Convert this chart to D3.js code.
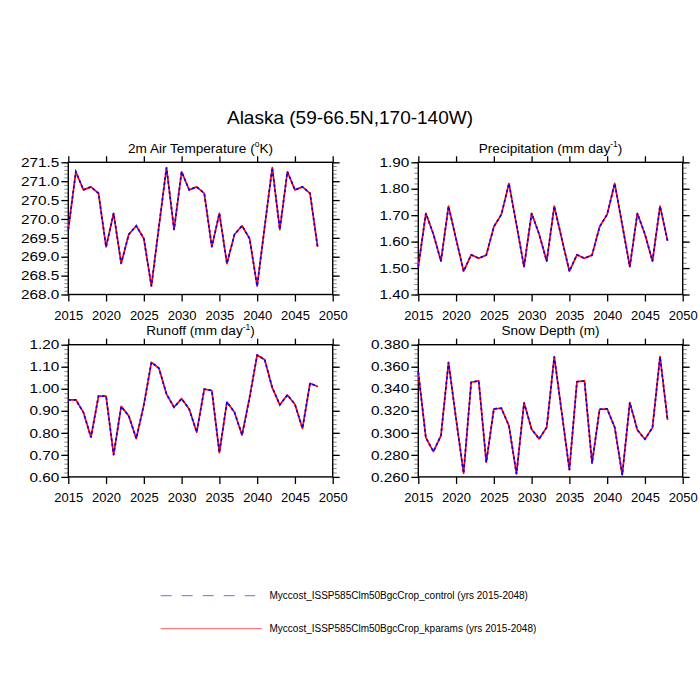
<!DOCTYPE html>
<html>
<head>
<meta charset="utf-8">
<script src="https://cdn.jsdelivr.net/npm/d3@7"></script>
<style>
  html, body { margin: 0; padding: 0; background: #fff; }
  svg { display: block; font-family: "Liberation Sans", Arial, Helvetica, sans-serif; }
</style>
</head>
<body>
<svg id="chart" width="700" height="700"></svg>
<script>
// ---------- data ----------
const years = [2015,2016,2017,2018,2019,2020,2021,2022,2023,2024,2025,2026,2027,2028,2029,2030,2031,
               2032,2033,2034,2035,2036,2037,2038,2039,2040,2041,2042,2043,2044,2045,2046,2047,2048];

const tempControl = [269.72,271.25,270.77,270.85,270.68,269.26,270.15,268.82,269.59,269.82,269.48,268.22,269.80,271.36,
                     269.72,271.25,270.77,270.85,270.68,269.26,270.15,268.82,269.59,269.82,269.48,268.22,269.80,271.36,
                     269.72,271.25,270.77,270.85,270.68,269.26];
const tempKparams = tempControl.slice();

const precipControl = [1.505,1.707,1.628,1.526,1.734,1.610,1.488,1.550,1.537,1.549,1.656,1.703,1.820,1.663,
                       1.505,1.707,1.628,1.526,1.734,1.610,1.488,1.550,1.537,1.549,1.656,1.703,1.820,1.663,
                       1.505,1.707,1.628,1.526,1.734,1.603];
const precipKparams = precipControl.slice();

const runoffControl = [0.950,0.950,0.893,0.780,0.967,0.967,0.700,0.920,0.877,0.774,0.927,1.120,1.093,0.976,
                       0.916,0.955,0.908,0.803,0.998,0.992,0.710,0.940,0.893,0.790,0.961,1.153,1.132,1.005,
                       0.927,0.972,0.930,0.820,1.025,1.010];
const runoffKparams = runoffControl.slice();

const snowControl = [0.355,0.2956,0.283,0.2975,0.364,0.3126,0.2633,0.3459,0.3471,0.2733,0.3217,0.3223,0.3063,0.2627,
                     0.3274,0.3032,0.2945,0.305,0.3691,0.3178,0.2664,0.3464,0.3471,0.2724,0.3214,0.3217,0.305,0.2618,
                     0.3274,0.3026,0.2942,0.3047,0.3691,0.3117];
const snowKparams = snowControl.slice();

const xTicks = [2015,2020,2025,2030,2035,2040,2045,2050];
const tempTicks = [268.0,268.5,269.0,269.5,270.0,270.5,271.0,271.5];
const precipTicks = [1.40,1.50,1.60,1.70,1.80,1.90];
const runoffTicks = [0.60,0.70,0.80,0.90,1.00,1.10,1.20];
const snowTicks = [0.260,0.280,0.300,0.320,0.340,0.360,0.380];

const mainTitle = "Alaska (59-66.5N,170-140W)";
const seriesNames = ["Myccost_ISSP585Clm50BgcCrop_control (yrs 2015-2048)",
                     "Myccost_ISSP585Clm50BgcCrop_kparams (yrs 2015-2048)"];

// ---------- layout ----------
const svg = d3.select("#chart");
const W = 264.4, H = 132.2;
const panels = [
  {x: 68.3,  y: 162.3, title: ["2m Air Temperature (", "o", "K)"], ctrl: tempControl, kp: tempKparams,
   ticks: tempTicks, minor: 0.1, fmt: d3.format(".1f")},
  {x: 418.3, y: 162.3, title: ["Precipitation (mm day", "-1", ")"], ctrl: precipControl, kp: precipKparams,
   ticks: precipTicks, minor: 0.02, fmt: d3.format(".2f")},
  {x: 68.3,  y: 344.7, title: ["Runoff (mm day", "-1", ")"], ctrl: runoffControl, kp: runoffKparams,
   ticks: runoffTicks, minor: 0.02, fmt: d3.format(".2f")},
  {x: 418.3, y: 344.7, title: ["Snow Depth (m)", "", ""], ctrl: snowControl, kp: snowKparams,
   ticks: snowTicks, minor: 0.004, fmt: d3.format(".3f")}
];

svg.append("text").attr("x", 350).attr("y", 123.5).attr("text-anchor", "middle")
  .attr("font-size", 19).attr("fill", "#000").text(mainTitle);

const yLabelStretch = 1.18;

panels.forEach(p => {
  const g = svg.append("g").attr("transform", `translate(${p.x},${p.y})`);
  const xs = d3.scaleLinear().domain([2015, 2050]).range([0, W]);
  const lo = p.ticks[0], hi = p.ticks[p.ticks.length - 1];
  const ys = d3.scaleLinear().domain([lo, hi]).range([H, 0]);

  // minor ticks
  const nMinor = Math.round((hi - lo) / p.minor);
  const minorVals = d3.range(nMinor + 1).map(i => lo + i * p.minor);
  const axL = d3.axisLeft(ys).tickValues(minorVals).tickSize(4).tickFormat("");
  const axR = d3.axisRight(ys).tickValues(minorVals).tickSize(4).tickFormat("");
  [g.append("g").call(axL), g.append("g").attr("transform", `translate(${W},0)`).call(axR)].forEach(a => {
    a.select(".domain").remove();
    a.selectAll("line").attr("stroke", "#555").attr("stroke-width", 0.7);
  });

  // major ticks
  const left = g.append("g").call(d3.axisLeft(ys).tickValues(p.ticks).tickSize(7).tickPadding(2).tickFormat(p.fmt));
  const right = g.append("g").attr("transform", `translate(${W},0)`)
    .call(d3.axisRight(ys).tickValues(p.ticks).tickSize(7).tickFormat(""));
  const bottom = g.append("g").attr("transform", `translate(0,${H})`)
    .call(d3.axisBottom(xs).tickValues(xTicks).tickSize(7).tickPadding(9).tickFormat(d3.format("d")));
  const top = g.append("g").call(d3.axisTop(xs).tickValues(xTicks).tickSize(6).tickFormat(""));
  [left, right, bottom, top].forEach(a => {
    a.select(".domain").remove();
    a.selectAll("line").attr("stroke", "#000").attr("stroke-width", 1.3);
    a.selectAll("text").attr("font-size", 13).attr("fill", "#000")
      .attr("font-family", '"Liberation Sans", Arial, sans-serif');
  });
  left.selectAll("text").attr("x", -9 / yLabelStretch).attr("transform", `scale(${yLabelStretch},1)`);

  // frame
  g.append("rect").attr("x", 0).attr("y", 0).attr("width", W).attr("height", H)
    .attr("fill", "none").attr("stroke", "#000").attr("stroke-width", 1.4);

  // lines
  const line = d3.line().x((d, i) => xs(years[i])).y(d => ys(d));
  g.append("path").datum(p.kp).attr("d", line).attr("fill", "none")
    .attr("stroke", "#ff0000").attr("stroke-width", 1.7).attr("stroke-linejoin", "round");
  g.append("path").datum(p.ctrl).attr("d", line).attr("fill", "none")
    .attr("stroke", "#0000ff").attr("stroke-width", 1.7).attr("stroke-dasharray", "2.6,2.6");

  // title
  const t = g.append("text").attr("x", W / 2).attr("y", -9.5).attr("text-anchor", "middle")
    .attr("font-size", 13.6).attr("fill", "#000");
  t.append("tspan").text(p.title[0]);
  if (p.title[1]) {
    t.append("tspan").attr("font-size", 8.5).attr("dy", -5.5).text(p.title[1]);
    t.append("tspan").attr("dy", 5.5).text(p.title[2]);
  }
});

// legend
const lg = svg.append("g");
lg.append("line").attr("x1", 160.7).attr("x2", 255).attr("y1", 595.7).attr("y2", 595.7)
  .attr("stroke", "#6a6aff").attr("stroke-width", 1).attr("stroke-dasharray", "11,10");
lg.append("line").attr("x1", 160.7).attr("x2", 261.7).attr("y1", 628.7).attr("y2", 628.7)
  .attr("stroke", "#ff5a5a").attr("stroke-width", 1);
lg.append("text").attr("x", 269.5).attr("y", 599.3).attr("font-size", 10).attr("fill", "#000").text(seriesNames[0]);
lg.append("text").attr("x", 269.5).attr("y", 632.3).attr("font-size", 10).attr("fill", "#000").text(seriesNames[1]);
</script>
</body>
</html>
